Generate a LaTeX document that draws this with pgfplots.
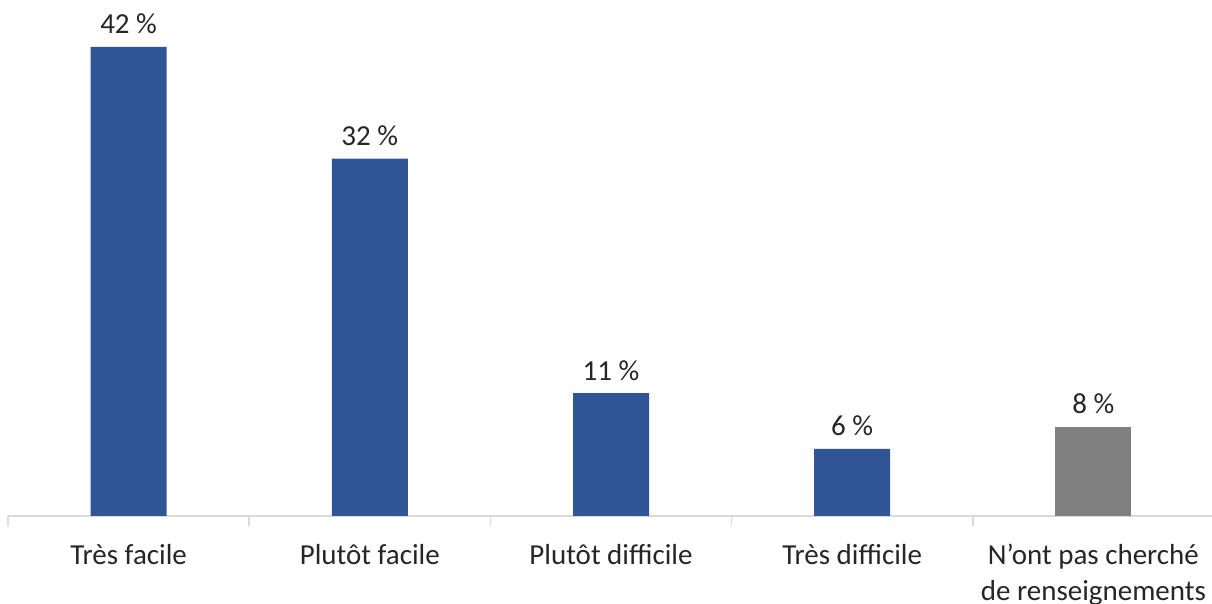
\documentclass[border=0pt]{standalone}
\usepackage{fontspec}
\setmainfont{Carlito}
\usepackage{pgfplots}
\pgfplotsset{compat=1.18}
\usetikzlibrary{calc}

\definecolor{barblue}{HTML}{2F5597}
\definecolor{bargray}{HTML}{808080}
\definecolor{axisgray}{HTML}{D9D9D9}

\begin{document}
\begin{tikzpicture}
\begin{axis}[
    name=ax,
    scale only axis,
    width=603pt,
    height=258pt,
    xmin=-0.5, xmax=4.5,
    ymin=0, ymax=46.2,
    axis x line*=bottom,
    axis y line=none,
    x axis line style={axisgray, line width=0.75pt},
    xtick={0,1,2,3,4},
    xticklabels={Très facile, Plutôt facile, Plutôt difficile, Très difficile, {N\symbol{39}ont pas cherché\\de renseignements}},
    major tick length=0pt,
    extra x ticks={-0.5,0.5,1.5,2.5,3.5,4.5},
    extra x tick labels={},
    extra x tick style={major tick length=5pt, tick align=outside, tick style={axisgray, line width=0.75pt}},
    xticklabel style={anchor=north, inner sep=0pt, yshift=-14pt, align=center, font=\fontsize{14.5}{18}\selectfont, text=black!85},
    ybar,
    bar width=38pt,
    bar shift=0pt,
    clip=false,
    point meta=y,
    nodes near coords={\pgfmathprintnumber{\pgfplotspointmeta}~\%},
    nodes near coords style={font=\fontsize{14.5}{16}\selectfont, text=black!85, inner sep=0pt, anchor=base, yshift=6.5pt},
    /pgf/number format/assume math mode=true,
]
\addplot[draw=none, fill=barblue] coordinates {(0,42) (1,32) (2,11) (3,6)};
\addplot[draw=none, fill=bargray] coordinates {(4,8)};
\end{axis}
\pgfresetboundingbox
\path[use as bounding box] ($(ax.south west)+(-4pt,-44pt)$) rectangle ($(ax.south west)+(602pt,258pt)$);
\end{tikzpicture}
\end{document}
